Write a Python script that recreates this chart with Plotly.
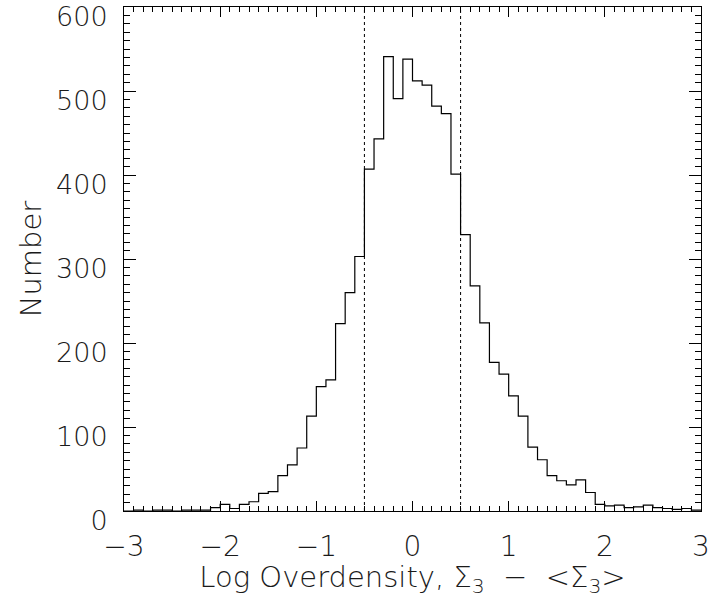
import plotly.graph_objects as go

bin_left = [round(-3.0 + 0.1 * i, 1) for i in range(60)]
counts = [0, 1, 0, 1, 1, 0, 1, 1, 1, 4,
          8, 3, 8, 11, 21, 23, 42, 55, 75, 113,
          148, 156, 223, 260, 303, 407, 443, 541, 491, 538,
          512, 507, 482, 473, 401, 329, 268, 224, 177, 163,
          137, 113, 76, 61, 42, 36, 31, 37, 22, 8,
          6, 7, 4, 5, 7, 4, 3, 2, 3, 1]
cut_lines = [-0.5, 0.5]
x_ticks = [-3, -2, -1, 0, 1, 2, 3]
y_ticks = [0, 100, 200, 300, 400, 500, 600]

xs = bin_left + [3.0]
ys = counts + [counts[-1]]

FAM = "DejaVu Sans ExtraLight, DejaVu Sans Light, DejaVu Sans"
FONT = dict(family=FAM, size=28, color="#1a1a1a")
YFONT = dict(family=FAM, size=27, color="#1a1a1a")
TFONT = dict(family=FAM, size=29, color="#1a1a1a")

fig = go.Figure()
fig.add_trace(go.Scatter(x=xs, y=ys, mode="lines", line=dict(shape="hv", color="black", width=1.2),
                         showlegend=False, hoverinfo="skip"))
for c in cut_lines:
    fig.add_trace(go.Scatter(x=[c, c], y=[0, 600], mode="lines",
                             line=dict(color="black", width=1, dash="dot"),
                             showlegend=False, hoverinfo="skip"))

fig.update_layout(
    width=712, height=598,
    margin=dict(l=124, r=11, t=7, b=87, autoexpand=False),
    plot_bgcolor="white", paper_bgcolor="white",
    font=FONT,
)
fig.update_xaxes(
    range=[-3, 3], tickvals=x_ticks, ticks="inside", ticklen=10, tickcolor="black",
    showline=True, linecolor="black", linewidth=1, mirror="ticks", showgrid=False, zeroline=False,
    minor=dict(dtick=0.1, tick0=0, ticks="inside", ticklen=5, tickcolor="black", showgrid=False),
    ticklabelstandoff=10, tickfont=FONT, ticklabeloverflow="allow", automargin=False,
    title=dict(text="Log Overdensity, Σ<sub>3</sub>  −  &lt;Σ<sub>3</sub>&gt;", font=TFONT, standoff=2),
)
fig.update_yaxes(
    range=[0, 600], tickvals=y_ticks, ticks="inside", ticklen=12, tickcolor="black",
    showline=True, linecolor="black", linewidth=1, mirror="ticks", showgrid=False, zeroline=False,
    minor=dict(dtick=10, tick0=0, ticks="inside", ticklen=6, tickcolor="black", showgrid=False),
    ticklabelstandoff=10, ticklabelshift=10, tickfont=YFONT, ticklabeloverflow="allow", automargin=False,
    title=dict(text="Number", font=TFONT, standoff=5),
)
fig.write_html("out.html")
